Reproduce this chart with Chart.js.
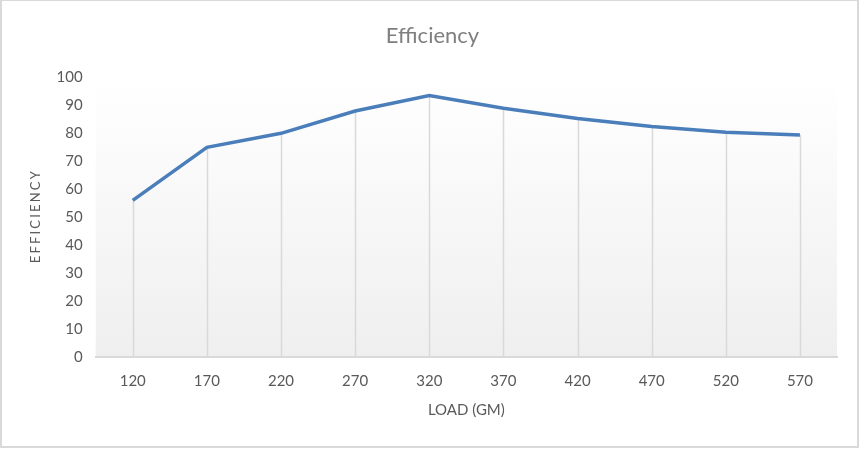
<!DOCTYPE html>
<html>
<head>
<meta charset="utf-8">
<script src="https://cdn.jsdelivr.net/npm/chart.js@4"></script>
<style>
  html, body { margin: 0; padding: 0; background: #fff; }
  #wrap { width: 863px; height: 454px; }
</style>
</head>
<body>
<div id="wrap"><canvas id="effChart" width="863" height="454"></canvas></div>
<script>
  const loads = ['120', '170', '220', '270', '320', '370', '420', '470', '520', '570'];
  const efficiency = [56, 75, 80, 88, 93.5, 89, 85.3, 82.4, 80.4, 79.4];

  const FONT = 'Lato, "Open Sans", sans-serif';
  const TEXT = '#595959';

  // plot background gradient + outer frame
  const frame = {
    id: 'frame',
    beforeDraw(chart) {
      const { ctx, chartArea: a } = chart;
      ctx.save();
      const g = ctx.createLinearGradient(0, a.top, 0, a.bottom);
      g.addColorStop(0, '#ffffff');
      g.addColorStop(1, '#efefef');
      ctx.fillStyle = g;
      ctx.fillRect(a.left, a.top, a.right - a.left, a.bottom - a.top);
      ctx.strokeStyle = '#d9d9d9';
      ctx.lineWidth = 2;
      ctx.strokeRect(1, 0, 857, 447);
      ctx.restore();
    }
  };

  // drop lines from each point down to the axis
  const dropLines = {
    id: 'dropLines',
    beforeDatasetsDraw(chart) {
      const { ctx, scales: { x, y } } = chart;
      ctx.save();
      ctx.strokeStyle = '#d9d9d9';
      ctx.lineWidth = 1.5;
      efficiency.forEach((v, i) => {
        const px = Math.round(x.getPixelForValue(i)) + 0.5;
        ctx.beginPath();
        ctx.moveTo(px, y.getPixelForValue(v));
        ctx.lineTo(px, y.getPixelForValue(0));
        ctx.stroke();
      });
      ctx.restore();
    }
  };

  new Chart(document.getElementById('effChart').getContext('2d'), {
    type: 'line',
    data: {
      labels: loads,
      datasets: [{
        label: 'Efficiency',
        data: efficiency,
        borderColor: '#4a7ebb',
        borderWidth: 3.5,
        pointRadius: 0,
        tension: 0,
        fill: false
      }]
    },
    options: {
      responsive: false,
      animation: false,
      layout: { padding: { top: 10, left: 28, right: 26, bottom: 31 } },
      plugins: {
        legend: { display: false },
        tooltip: { enabled: false },
        title: {
          display: true,
          text: 'Efficiency',
          color: '#7f7f7f',
          font: { family: FONT, size: 22, weight: 'normal' },
          padding: { top: 13, bottom: 28 }
        }
      },
      scales: {
        x: {
          offset: true,
          grid: { display: false, drawTicks: false },
          border: { color: '#d9d9d9', width: 2 },
          ticks: { color: TEXT, font: { family: FONT, size: 15 }, padding: 15 },
          title: {
            display: true,
            text: 'LOAD (GM)',
            color: TEXT,
            font: { family: FONT, size: 15 },
            padding: { top: -4 }
          }
        },
        y: {
          min: 0,
          max: 100,
          ticks: { stepSize: 10, color: TEXT, font: { family: FONT, size: 15 }, padding: 13 },
          grid: { display: false, drawTicks: false },
          border: { display: false },
          title: {
            display: true,
            text: 'E\u2006F\u2006F\u2006I\u2006C\u2006I\u2006E\u2006N\u2006C\u2006Y',
            color: TEXT,
            font: { family: FONT, size: 13 },
            padding: { top: 0, bottom: 0 }
          }
        }
      }
    },
    plugins: [frame, dropLines]
  });
</script>
</body>
</html>
